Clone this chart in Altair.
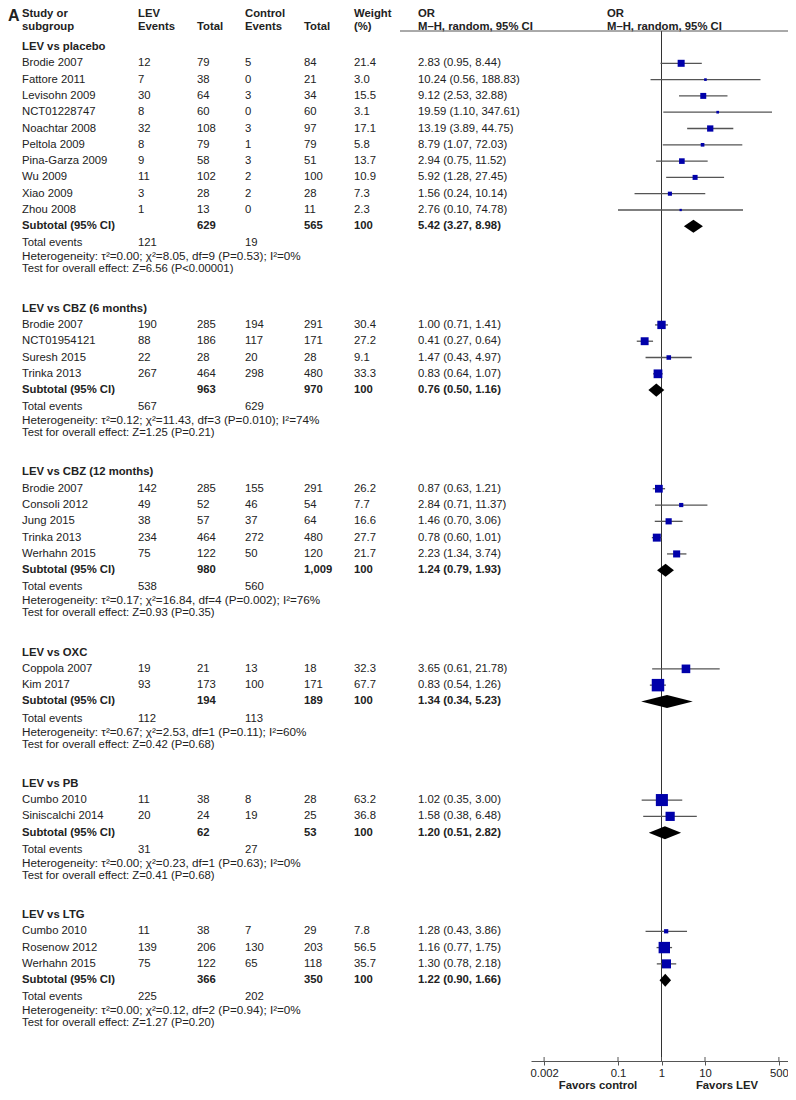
import altair as alt
import pandas as pd

FONT = "Liberation Sans"
TXT = "#222222"
FS = 11.3

# ---------------- data ----------------
groups = ["LEV vs placebo", "LEV vs CBZ (6 months)", "LEV vs CBZ (12 months)",
          "LEV vs OXC", "LEV vs PB", "LEV vs LTG"]

study_names = [
    ["Brodie 2007", "Fattore 2011", "Levisohn 2009", "NCT01228747", "Noachtar 2008",
     "Peltola 2009", "Pina-Garza 2009", "Wu 2009", "Xiao 2009", "Zhou 2008"],
    ["Brodie 2007", "NCT01954121", "Suresh 2015", "Trinka 2013"],
    ["Brodie 2007", "Consoli 2012", "Jung 2015", "Trinka 2013", "Werhahn 2015"],
    ["Coppola 2007", "Kim 2017"],
    ["Cumbo 2010", "Siniscalchi 2014"],
    ["Cumbo 2010", "Rosenow 2012", "Werhahn 2015"],
]
lev_events = [[12, 7, 30, 8, 32, 8, 9, 11, 3, 1], [190, 88, 22, 267], [142, 49, 38, 234, 75],
              [19, 93], [11, 20], [11, 139, 75]]
lev_totals = [[79, 38, 64, 60, 108, 79, 58, 102, 28, 13], [285, 186, 28, 464], [285, 52, 57, 464, 122],
              [21, 173], [38, 24], [38, 206, 122]]
ctl_events = [[5, 0, 3, 0, 3, 1, 3, 2, 2, 0], [194, 117, 20, 298], [155, 46, 37, 272, 50],
              [13, 100], [8, 19], [7, 130, 65]]
ctl_totals = [[84, 21, 34, 60, 97, 79, 51, 100, 28, 11], [291, 171, 28, 480], [291, 54, 64, 480, 120],
              [18, 171], [28, 25], [29, 203, 118]]
weights = [[21.4, 3.0, 15.5, 3.1, 17.1, 5.8, 13.7, 10.9, 7.3, 2.3], [30.4, 27.2, 9.1, 33.3],
           [26.2, 7.7, 16.6, 27.7, 21.7], [32.3, 67.7], [63.2, 36.8], [7.8, 56.5, 35.7]]
or_est = [[2.83, 10.24, 9.12, 19.59, 13.19, 8.79, 2.94, 5.92, 1.56, 2.76], [1.00, 0.41, 1.47, 0.83],
          [0.87, 2.84, 1.46, 0.78, 2.23], [3.65, 0.83], [1.02, 1.58], [1.28, 1.16, 1.30]]
or_lo = [[0.95, 0.56, 2.53, 1.10, 3.89, 1.07, 0.75, 1.28, 0.24, 0.10], [0.71, 0.27, 0.43, 0.64],
         [0.63, 0.71, 0.70, 0.60, 1.34], [0.61, 0.54], [0.35, 0.38], [0.43, 0.77, 0.78]]
or_hi = [[8.44, 188.83, 32.88, 347.61, 44.75, 72.03, 11.52, 27.45, 10.14, 74.78], [1.41, 0.64, 4.97, 1.07],
         [1.21, 11.37, 3.06, 1.01, 3.74], [21.78, 1.26], [3.00, 6.48], [3.86, 1.75, 2.18]]

sub_lev_total = ["629", "963", "980", "194", "62", "366"]
sub_ctl_total = ["565", "970", "1,009", "189", "53", "350"]
sub_est = [5.42, 0.76, 1.24, 1.34, 1.20, 1.22]
sub_lo = [3.27, 0.50, 0.79, 0.34, 0.51, 0.90]
sub_hi = [8.98, 1.16, 1.93, 5.23, 2.82, 1.66]
tot_lev_events = [121, 567, 538, 112, 31, 225]
tot_ctl_events = [19, 629, 560, 113, 27, 202]
heterogeneity = [
    "τ²=0.00; χ²=8.05, df=9 (P=0.53); I²=0%",
    "τ²=0.12; χ²=11.43, df=3 (P=0.010); I²=74%",
    "τ²=0.17; χ²=16.84, df=4 (P=0.002); I²=76%",
    "τ²=0.67; χ²=2.53, df=1 (P=0.11); I²=60%",
    "τ²=0.00; χ²=0.23, df=1 (P=0.63); I²=0%",
    "τ²=0.00; χ²=0.12, df=2 (P=0.94); I²=0%",
]
overall = ["Z=6.56 (P<0.00001)", "Z=1.25 (P=0.21)", "Z=0.93 (P=0.35)",
           "Z=0.42 (P=0.68)", "Z=0.41 (P=0.68)", "Z=1.27 (P=0.20)"]

axis_ticks = [0.002, 0.1, 1, 10, 500]

# ---------------- layout of rows (in row units) ----------------
U = 16.3
rows, studies, diamonds = [], [], []
pos = 39 / U


def blank(**kw):
    d = dict(bold=0, het=0, label="", lev_e="", lev_t="", ctl_e="", ctl_t="", wt="", ortxt="")
    d.update(kw)
    return d


for g in range(len(groups)):
    rows.append(blank(pos=pos, bold=1, label=groups[g]))
    pos += 1
    for i, nm in enumerate(study_names[g]):
        e, l, h, w = or_est[g][i], or_lo[g][i], or_hi[g][i], weights[g][i]
        rows.append(blank(pos=pos, label=nm, lev_e=str(lev_events[g][i]), lev_t=str(lev_totals[g][i]),
                          ctl_e=str(ctl_events[g][i]), ctl_t=str(ctl_totals[g][i]), wt=f"{w:.1f}",
                          ortxt=f"{e:.2f} ({l:.2f}, {h:.2f})"))
        studies.append(dict(pos=pos, est=e, lo=l, hi=h, weight=w))
        pos += 1
    rows.append(blank(pos=pos, bold=1, label="Subtotal (95% CI)", lev_t=sub_lev_total[g],
                      ctl_t=sub_ctl_total[g], wt="100",
                      ortxt=f"{sub_est[g]:.2f} ({sub_lo[g]:.2f}, {sub_hi[g]:.2f})"))
    hd = 0.4
    diamonds += [dict(gi=g, xv=sub_lo[g], ylo=pos, yhi=pos),
                 dict(gi=g, xv=sub_est[g], ylo=pos - hd, yhi=pos + hd),
                 dict(gi=g, xv=sub_hi[g], ylo=pos, yhi=pos)]
    pos += 1.05
    rows.append(blank(pos=pos, label="Total events", lev_e=str(tot_lev_events[g]),
                      ctl_e=str(tot_ctl_events[g])))
    pos += 0.8
    rows.append(blank(pos=pos, het=1, label="Heterogeneity: " + heterogeneity[g]))
    pos += 0.8
    rows.append(blank(pos=pos, label="Test for overall effect: " + overall[g]))
    pos += 2.4

table = pd.DataFrame(rows)
study_df = pd.DataFrame(studies)
dia_df = pd.DataFrame(diamonds)

W, H = 780, 1053
xscale = alt.Scale(type="log", domain=[0.001, 1000], range=[523, 784], nice=False)
yscale = alt.Scale(domain=[0, H / U], range=[0, H], nice=False, zero=False)
xaxis = alt.Axis(values=axis_ticks, format="~g", grid=False, domainColor="#555555", tickColor="#555555",
                 tickSize=4, labelFont=FONT, labelFontSize=FS, labelColor=TXT, labelPadding=2,
                 title=None, labelFlush=False, labelOverlap=False, domainWidth=1, tickWidth=1)

col_x = {"label": 14, "lev_e": 130, "lev_t": 189, "ctl_e": 237, "ctl_t": 296, "wt": 346, "ortxt": 410}

layers = []

# line of no effect (carries the x axis)
layers.append(
    alt.Chart(pd.DataFrame({"v": [1]})).mark_rule(color="#333333", strokeWidth=1)
    .encode(x=alt.X("v:Q", scale=xscale, axis=xaxis), y=alt.value(23), y2=alt.value(H))
)
# CI lines
layers.append(
    alt.Chart(study_df).mark_rule(color="#555555", strokeWidth=1.3)
    .encode(x=alt.X("lo:Q", scale=xscale, axis=xaxis), x2="hi:Q",
            y=alt.Y("pos:Q", scale=yscale, axis=None))
)
# upward halves of the axis ticks
layers.append(
    alt.Chart(pd.DataFrame({"t": axis_ticks})).mark_rule(color="#555555", strokeWidth=1)
    .encode(x=alt.X("t:Q", scale=xscale, axis=xaxis), y=alt.value(H - 4), y2=alt.value(H))
)
# study squares
layers.append(
    alt.Chart(study_df).mark_square(color="#0000AA", opacity=1)
    .encode(x=alt.X("est:Q", scale=xscale, axis=xaxis), y=alt.Y("pos:Q", scale=yscale, axis=None),
            size=alt.Size("weight:Q", scale=alt.Scale(domain=[0, 100], range=[0, 230]), legend=None))
)
# subtotal diamonds, one area layer per subgroup
for g in range(len(groups)):
    layers.append(
        alt.Chart(dia_df).transform_filter(f"datum.gi == {g}")
        .mark_area(color="black", fillOpacity=1, opacity=1, interpolate="linear", orient="vertical")
        .encode(x=alt.X("xv:Q", scale=xscale, axis=xaxis),
                y=alt.Y("ylo:Q", scale=yscale, axis=None, stack=None),
                y2=alt.Y2("yhi:Q"))
    )

for field, xpx in col_x.items():
    for b in (0, 1):
        for hz in ((0, 1) if field == "label" and b == 0 else (0,)):
            layers.append(
                alt.Chart(table)
                .transform_filter(f"datum.bold == {b} && datum.het == {hz} && datum['{field}'] != ''")
                .mark_text(align="left", baseline="middle", font=FONT, fontSize=11.7 if hz else FS,
                           fontWeight="bold" if b else "normal", color=TXT)
                .encode(x=alt.value(xpx), y=alt.Y("pos:Q", scale=yscale, axis=None), text=f"{field}:N")
            )

# header texts
headers = [("Study or\nsubgroup", 14), ("LEV\nEvents", 130), ("\nTotal", 189), ("Control\nEvents", 237),
           ("\nTotal", 296), ("Weight\n(%)", 346), ("OR\nM–H, random, 95% CI", 410),
           ("OR\nM–H, random, 95% CI", 599)]
one = pd.DataFrame({"a": [0]})
for txt, xpx in headers:
    layers.append(
        alt.Chart(one).mark_text(align="left", baseline="top", font=FONT, fontSize=FS, fontWeight="bold",
                                 color=TXT, lineBreak="\n", lineHeight=13)
        .encode(x=alt.value(xpx), y=alt.value(0), text=alt.value(txt))
    )
layers.append(
    alt.Chart(one).mark_text(align="left", baseline="top", font=FONT, fontSize=16, fontWeight="bold", color=TXT)
    .encode(x=alt.value(0), y=alt.value(0), text=alt.value("A"))
)
# header underline
layers.append(
    alt.Chart(one).mark_rule(color="#555555", strokeWidth=1)
    .encode(x=alt.value(392), x2=alt.value(W), y=alt.value(23))
)
# favors labels
for txt, xpx in [("Favors control", 590), ("Favors LEV", 719)]:
    layers.append(
        alt.Chart(one).mark_text(align="center", baseline="middle", font=FONT, fontSize=FS, fontWeight="bold",
                                 color=TXT)
        .encode(x=alt.value(xpx), y=alt.value(H + 25), text=alt.value(txt))
    )

chart = alt.layer(*layers).properties(
    width=W, height=H, autosize="none",
    padding={"left": 0, "right": 0, "top": 0, "bottom": 31},
    background="white",
).configure_view(stroke=None)

chart.save("out.html", embed_options={"renderer": "svg", "actions": False})
